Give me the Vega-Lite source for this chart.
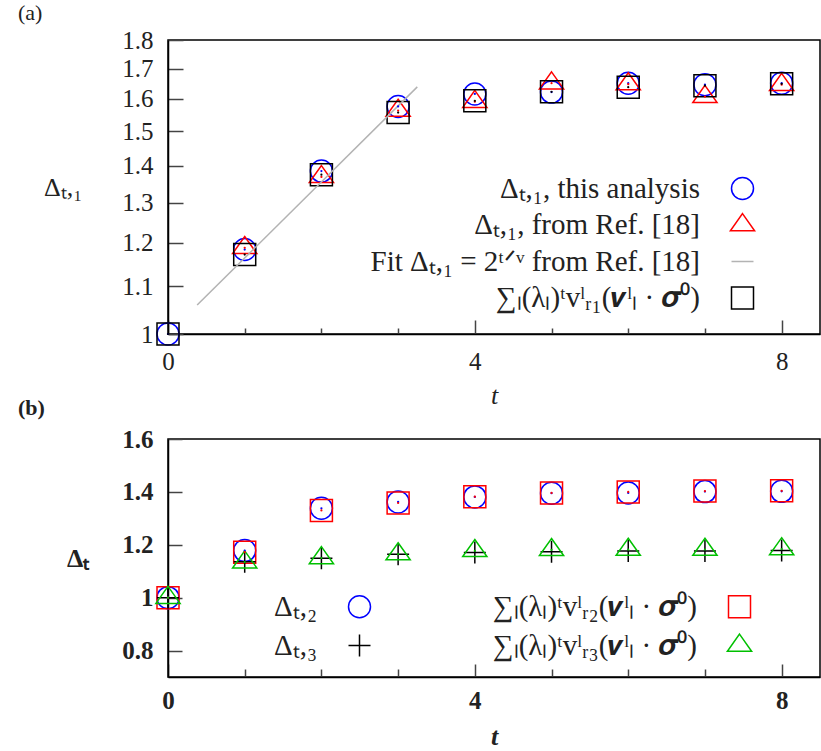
{
  "$schema": "https://vega.github.io/schema/vega-lite/v6.json",
  "autosize": {"type": "pad"},
  "padding": {"left": 17, "top": 1, "right": 2, "bottom": 0},
  "background": "white",
  "spacing": 105,
  "bounds": "flush",
  "resolve": {"scale": {"color": "independent", "shape": "independent", "fill": "independent"}, "legend": {"color": "independent", "shape": "independent", "fill": "independent"}},
  "config": {
    "view": {"stroke": "black", "strokeWidth": 1.5},
    "font": "Liberation Serif",
    "axis": {"domainColor": "black", "domainWidth": 1.5, "tickColor": "#444", "tickWidth": 1.5, "grid": false,
      "labelFont": "Liberation Serif", "labelFontSize": 25, "labelColor": "#222",
      "titleFont": "Liberation Serif", "titleFontSize": 26, "titleColor": "#222", "titleFontWeight": "normal",
      "labelOverlap": false, "labelFlush": false},
    "legend": {"labelFont": "Liberation Serif", "labelFontSize": 29, "labelColor": "#222", "labelLimit": 600, "padding": 0, "symbolStrokeWidth": 1.5, "symbolSize": 484, "symbolFillColor": "transparent", "title": null}
  },
  "datasets": {
    "a": [
      {"t": 0, "d": 1.0, "series": "c"}, {"t": 1, "d": 1.184, "series": "c"}, {"t": 2, "d": 1.385, "series": "c"},
      {"t": 3, "d": 1.576, "series": "c"}, {"t": 4, "d": 1.616, "series": "c"}, {"t": 5, "d": 1.622, "series": "c"},
      {"t": 6, "d": 1.651, "series": "c"}, {"t": 7, "d": 1.646, "series": "c"}, {"t": 8, "d": 1.651, "series": "c"},
      {"t": 1, "d": 1.188, "series": "tri"}, {"t": 2, "d": 1.369, "series": "tri"},
      {"t": 3, "d": 1.563, "series": "tri"}, {"t": 4, "d": 1.591, "series": "tri"}, {"t": 5, "d": 1.651, "series": "tri"},
      {"t": 6, "d": 1.648, "series": "tri"}, {"t": 7, "d": 1.607, "series": "tri"}, {"t": 8, "d": 1.646, "series": "tri"},
      {"t": 0, "d": 1.0, "series": "sq"}, {"t": 1, "d": 1.172, "series": "sq"}, {"t": 2, "d": 1.375, "series": "sq"},
      {"t": 3, "d": 1.557, "series": "sq"}, {"t": 4, "d": 1.594, "series": "sq"}, {"t": 5, "d": 1.623, "series": "sq"},
      {"t": 6, "d": 1.638, "series": "sq"}, {"t": 7, "d": 1.643, "series": "sq"}, {"t": 8, "d": 1.649, "series": "sq"}
    ],
    "fit": [
      {"t": 0.38, "d": 1.0595, "series": "fit"}, {"t": 3.25, "d": 1.639, "series": "fit"}
    ],
    "b": [
      {"t": 0, "d": 1.0, "series": "d2"}, {"t": 1, "d": 1.178, "series": "d2"}, {"t": 2, "d": 1.338, "series": "d2"},
      {"t": 3, "d": 1.362, "series": "d2"}, {"t": 4, "d": 1.381, "series": "d2"}, {"t": 5, "d": 1.395, "series": "d2"},
      {"t": 6, "d": 1.396, "series": "d2"}, {"t": 7, "d": 1.401, "series": "d2"}, {"t": 8, "d": 1.402, "series": "d2"},
      {"t": 0, "d": 1.0, "series": "sR2"}, {"t": 1, "d": 1.172, "series": "sR2"}, {"t": 2, "d": 1.330, "series": "sR2"},
      {"t": 3, "d": 1.358, "series": "sR2"}, {"t": 4, "d": 1.382, "series": "sR2"}, {"t": 5, "d": 1.396, "series": "sR2"},
      {"t": 6, "d": 1.400, "series": "sR2"}, {"t": 7, "d": 1.403, "series": "sR2"}, {"t": 8, "d": 1.404, "series": "sR2"},
      {"t": 0, "d": 1.0, "series": "d3"}, {"t": 1, "d": 1.136, "series": "d3"}, {"t": 2, "d": 1.149, "series": "d3"},
      {"t": 3, "d": 1.164, "series": "d3"}, {"t": 4, "d": 1.171, "series": "d3"}, {"t": 5, "d": 1.174, "series": "d3"},
      {"t": 6, "d": 1.176, "series": "d3"}, {"t": 7, "d": 1.176, "series": "d3"}, {"t": 8, "d": 1.178, "series": "d3"},
      {"t": 0, "d": 1.0, "series": "sR3"}, {"t": 1, "d": 1.134, "series": "sR3"}, {"t": 2, "d": 1.150, "series": "sR3"},
      {"t": 3, "d": 1.165, "series": "sR3"}, {"t": 4, "d": 1.177, "series": "sR3"}, {"t": 5, "d": 1.181, "series": "sR3"},
      {"t": 6, "d": 1.182, "series": "sR3"}, {"t": 7, "d": 1.182, "series": "sR3"}, {"t": 8, "d": 1.184, "series": "sR3"}
    ]
  },
  "vconcat": [
    {
      "width": 652, "height": 294,
      "title": {"text": "(a)", "anchor": "start", "frame": "group", "dx": -150, "offset": 3, "fontSize": 22, "fontWeight": "normal", "font": "Liberation Serif", "color": "#222"},
      "layer": [
        {
          "data": {"name": "a"},
          "mark": {"type": "point", "filled": false, "strokeWidth": 1.5, "size": 484, "opacity": 1},
          "encoding": {
            "x": {"field": "t", "type": "quantitative", "scale": {"domain": [0, 8.5], "nice": false},
              "axis": {"values": [0, 1, 2, 3, 4, 5, 6, 7, 8], "format": "d", "labelExpr": "datum.value % 4 === 0 ? datum.label : ''",
                "tickSize": {"condition": {"test": "datum.value % 4 === 0", "value": -14}, "value": -6},
                "labelPadding": 29, "title": "t", "titleFontStyle": "italic", "titlePadding": 0}},
            "y": {"field": "d", "type": "quantitative", "scale": {"type": "log", "domain": [1, 1.8], "nice": false},
              "axis": {"values": [1, 1.1, 1.2, 1.3, 1.4, 1.5, 1.6, 1.7, 1.8], "format": "~g", "tickSize": -15, "labelPadding": 30,
                "title": "Δₜ,₁", "titleAngle": 0, "titleAlign": "right", "titleBaseline": "middle", "titlePadding": 40}},
            "color": {"field": "series", "type": "nominal",
              "scale": {"domain": ["c", "tri", "fit", "sq"], "range": ["#0000ff", "#ff0000", "#b3b3b3", "#000000"]},
              "legend": {"orient": "none", "legendX": 560, "legendY": 134, "labelAlign": "right", "labelOffset": -57, "rowPadding": 6.5,
                "encode": {"symbols": {"update": {"fill": {"value": "transparent"}, "strokeWidth": {"value": 1.5}}}},
                "labelExpr": "datum.value == 'c' ? 'Δₜ,₁,  this analysis' : datum.value == 'tri' ? 'Δₜ,₁, from Ref. [18]' : datum.value == 'fit' ? 'Fit Δₜ,₁ = 2ᵗᐟᵛ from Ref. [18]' : '∑ₗ(λₗ)ᵗvˡᵣ₁(𝒗ˡₗ · 𝝈⁰)'"}},
            "shape": {"field": "series", "type": "nominal",
              "scale": {"domain": ["c", "tri", "fit", "sq"], "range": ["M1,0A1,1 0 1,1 -1,0A1,1 0 1,1 1,0Z", "M0,-1.03L1.1,0.52L-1.1,0.52Z", "stroke", "square"]}}
          }
        },
        {
          "data": {"name": "fit"},
          "mark": {"type": "line", "strokeWidth": 1.5},
          "encoding": {
            "x": {"field": "t", "type": "quantitative"},
            "y": {"field": "d", "type": "quantitative"},
            "color": {"field": "series", "type": "nominal"}
          }
        },
        {
          "data": {"name": "a"},
          "mark": {"type": "point", "filled": true, "shape": "circle", "size": 5, "opacity": 1, "strokeWidth": 0},
          "encoding": {
            "x": {"field": "t", "type": "quantitative"},
            "y": {"field": "d", "type": "quantitative"},
            "fill": {"field": "series", "type": "nominal", "legend": null,
              "scale": {"domain": ["c", "tri", "sq"], "range": ["#0000ff", "#ff0000", "#000000"]}}
          }
        }
      ]
    },
    {
      "width": 652, "height": 238,
      "title": {"text": "(b)", "anchor": "start", "frame": "group", "dx": -150, "offset": 7, "fontSize": 22, "fontWeight": "bold", "font": "Liberation Serif", "color": "#222"},
      "layer": [
        {
          "data": {"name": "b"},
          "mark": {"type": "point", "filled": false, "strokeWidth": 1.5, "size": 484, "opacity": 1},
          "encoding": {
            "x": {"field": "t", "type": "quantitative", "scale": {"domain": [0, 8.5], "nice": false},
              "axis": {"values": [0, 1, 2, 3, 4, 5, 6, 7, 8], "format": "d", "labelExpr": "datum.value % 4 === 0 ? datum.label : ''",
                "tickSize": {"condition": {"test": "datum.value % 4 === 0", "value": -13}, "value": -8},
                "labelPadding": 24, "labelFontWeight": "bold", "title": "t", "titleFontStyle": "italic", "titleFontWeight": "bold", "titlePadding": 5}},
            "y": {"field": "d", "type": "quantitative", "scale": {"domain": [0.7, 1.6], "nice": false, "zero": false},
              "axis": {"values": [0.8, 0.9, 1, 1.1, 1.2, 1.3, 1.4, 1.5, 1.6], "format": "~g",
                "labelExpr": "round(datum.value * 10) % 2 == 0 ? datum.label : ''",
                "tickSize": {"condition": {"test": "round(datum.value * 10) % 2 == 0", "value": -14}, "value": -7},
                "labelPadding": 29, "labelFontWeight": "bold",
                "title": "Δₜ", "titleFontWeight": "bold", "titleAngle": 0, "titleAlign": "right", "titleBaseline": "middle", "titlePadding": 33}},
            "color": {"field": "series", "type": "nominal",
              "scale": {"domain": ["d2", "d3", "sR2", "sR3"], "range": ["#0000ff", "#000000", "#ff0000", "#00c000"]},
              "legend": {"orient": "none", "legendX": 177, "legendY": 153, "columns": 2, "columnPadding": 119, "labelAlign": "right", "labelOffset": -57, "rowPadding": 9,
                "encode": {"symbols": {"update": {"fill": {"value": "transparent"}, "strokeWidth": {"value": 1.5}}}},
                "labelExpr": "datum.value == 'd2' ? 'Δₜ,₂' : datum.value == 'd3' ? 'Δₜ,₃' : datum.value == 'sR2' ? '∑ₗ(λₗ)ᵗvˡᵣ₂(𝒗ˡₗ · 𝝈⁰)' : '∑ₗ(λₗ)ᵗvˡᵣ₃(𝒗ˡₗ · 𝝈⁰)'"}},
            "shape": {"field": "series", "type": "nominal",
              "scale": {"domain": ["d2", "d3", "sR2", "sR3"], "range": ["M1,0A1,1 0 1,1 -1,0A1,1 0 1,1 1,0Z", "M-1,0L1,0M0,-1L0,1", "square", "M0,-1.03L1.1,0.52L-1.1,0.52Z"]}}
          }
        },
        {
          "data": {"name": "b"},
          "transform": [{"filter": "datum.series != 'd3'"}],
          "mark": {"type": "point", "filled": true, "shape": "circle", "size": 5, "opacity": 1, "strokeWidth": 0},
          "encoding": {
            "x": {"field": "t", "type": "quantitative"},
            "y": {"field": "d", "type": "quantitative"},
            "fill": {"field": "series", "type": "nominal", "legend": null,
              "scale": {"domain": ["d2", "sR2", "sR3"], "range": ["#0000ff", "#ff0000", "#00c000"]}}
          }
        }
      ]
    }
  ]
}
